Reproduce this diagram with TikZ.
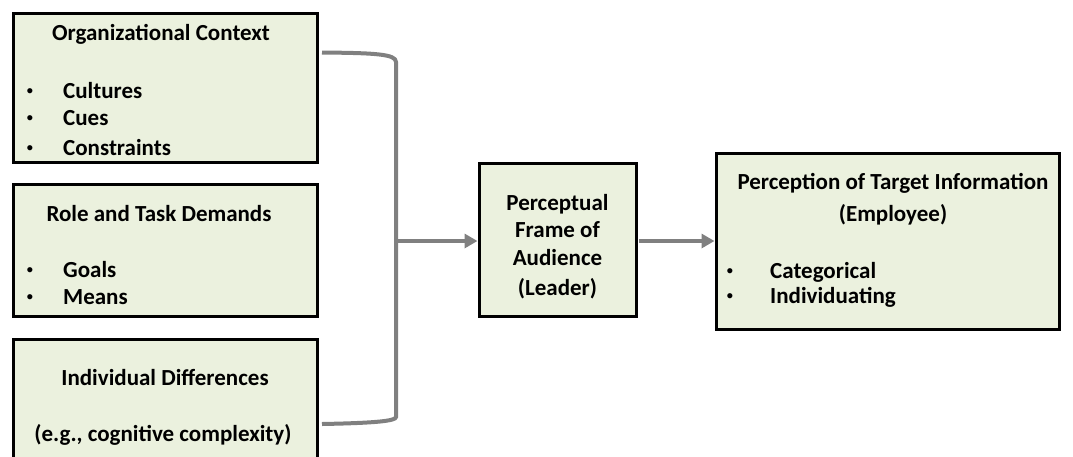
\documentclass[tikz,border=0pt]{standalone}
\usepackage{fontspec}
\setmainfont{Carlito}
\newfontfamily\bulletfont{Liberation Sans}
\usetikzlibrary{arrows.meta}
\definecolor{boxfill}{HTML}{EBF1DE}
\definecolor{linkgray}{HTML}{808080}
\tikzset{
  panel/.style={draw=black, line width=3pt, fill=boxfill, inner sep=0pt},
  lbl/.style={font=\fontsize{23}{27}\selectfont\bfseries, inner sep=0pt, anchor=base},
  item/.style={font=\fontsize{23}{27}\selectfont\bfseries, inner sep=0pt, anchor=base west},
  dot/.style={font=\fontsize{19}{23}\selectfont\bulletfont, inner sep=0pt, anchor=base},
  link/.style={draw=linkgray, line width=4pt},
  flow/.style={link, -{Triangle[length=13pt,width=14pt]}}
}
\begin{document}
\begin{tikzpicture}[x=1pt,y=-1pt]
\useasboundingbox (0,0) rectangle (1073,456);

% input boxes
\node[panel, minimum width=304pt, minimum height=149pt] (ctx) at (165,87.5) {};
\node[panel, minimum width=304pt, minimum height=132pt] (role) at (165,250) {};
\node[panel, minimum width=304pt, minimum height=131pt] (indiv) at (165,404.5) {};

% central frame and outcome
\node[panel, minimum width=157pt, minimum height=153pt] (frame) at (557.5,239.5) {};
\node[panel, minimum width=343pt, minimum height=176pt] (target) at (887.5,241) {};

% texts: organizational context
\node[lbl] (ctxT) at (161,40) {Organizational Context};
\node[dot] (ctxB1) at (30,97) {•};
\node[item] (ctxI1) at (63,98) {Cultures};
\node[dot] (ctxB2) at (30,124) {•};
\node[item] (ctxI2) at (63,125) {Cues};
\node[dot] (ctxB3) at (30,154) {•};
\node[item] (ctxI3) at (63,155) {Constraints};

% texts: role and task demands
\node[lbl] (roleT) at (159,221) {Role and Task Demands};
\node[dot] (roleB1) at (30,276) {•};
\node[item] (roleI1) at (63,277) {Goals};
\node[dot] (roleB2) at (30,303) {•};
\node[item] (roleI2) at (63,304) {Means};

% texts: individual differences
\node[lbl] (indivT) at (165,385) {Individual Differences};
\node[lbl] (indivS) at (163,441) {(e.g., cognitive complexity)};

% texts: perceptual frame
\node[lbl] (fr1) at (557.5,210) {Perceptual};
\node[lbl] (fr2) at (557.5,237) {Frame of};
\node[lbl] (fr3) at (557.5,265) {Audience};
\node[lbl] (fr4) at (557.5,295) {(Leader)};

% texts: target perception
\node[lbl] (tgT1) at (893,189) {Perception of Target Information};
\node[lbl] (tgT2) at (893,221) {(Employee)};
\node[dot] (tgB1) at (730,277) {•};
\node[item] (tgI1) at (770,278) {Categorical};
\node[dot] (tgB2) at (730,302) {•};
\node[item] (tgI2) at (770,303) {Individuating};

% bracket joining the three inputs
\coordinate (brTop) at (322,52.5);
\coordinate (brBot) at (322,424);
\coordinate (brMid) at (396,241);
\draw[link] (brTop) .. controls (375,53) and (396,54) .. (396,62)
  -- (396,417) .. controls (396,421) and (375,423) .. (brBot);

% arrows
\draw[flow] (brMid) -- (brMid -| frame.west);
\coordinate (frOut) at (639,241);
\draw[flow] (frOut) -- (frOut -| target.west);
\end{tikzpicture}
\end{document}
